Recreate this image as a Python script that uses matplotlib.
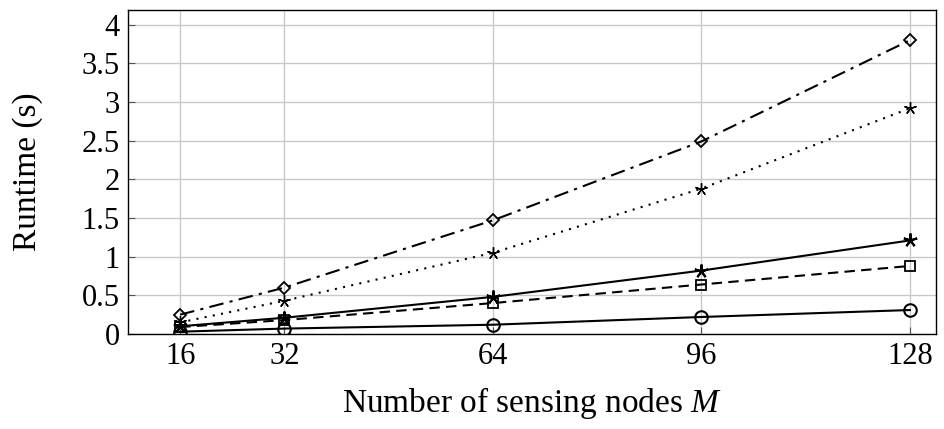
import matplotlib
matplotlib.use("Agg")
import matplotlib.pyplot as plt

nodes = [16, 32, 64, 96, 128]
s_dashdot = [0.25, 0.60, 1.47, 2.49, 3.80]
s_dotted = [0.15, 0.43, 1.05, 1.88, 2.92]
s_solid_star = [0.10, 0.21, 0.48, 0.82, 1.21]
s_dashed = [0.09, 0.18, 0.40, 0.64, 0.88]
s_circle = [0.03, 0.07, 0.12, 0.22, 0.31]
yticks = [0, 0.5, 1, 1.5, 2, 2.5, 3, 3.5, 4]
ytick_labels = ["0", "0.5", "1", "1.5", "2", "2.5", "3", "3.5", "4"]

plt.rcParams['font.family'] = ['Liberation Serif', 'DejaVu Serif']
plt.rcParams['mathtext.fontset'] = 'custom'
plt.rcParams['mathtext.it'] = 'Liberation Serif:italic'
plt.rcParams['mathtext.rm'] = 'Liberation Serif'

fig = plt.figure(figsize=(9.45, 4.29), dpi=100)
ax = fig.add_axes([128/945, 1 - 334/429, (936-128)/945, (334-10)/429])

lw = 1.5
ax.plot(nodes, s_dashdot, color='black', lw=lw, linestyle=(0, (7, 3, 1.5, 3)),
        marker='D', markersize=6, fillstyle='none', mew=1.3)
ax.plot(nodes, s_dotted, color='black', lw=lw, linestyle=(0, (1, 3)),
        marker=(5, 2, 0), markersize=9, mew=1.0)
ax.plot(nodes, s_solid_star, color='black', lw=lw, linestyle='-',
        marker=(5, 2, 0), markersize=10, mew=1.5)
ax.plot(nodes, s_dashed, color='black', lw=lw, linestyle=(0, (5, 3)),
        marker='s', markersize=7, fillstyle='none', mew=1.3)
ax.plot(nodes, s_circle, color='black', lw=lw, linestyle='-',
        marker='o', markersize=9, fillstyle='none', mew=1.5)

ax.set_xlim(8, 132)
ax.set_ylim(0, 4.19)
ax.set_xticks(nodes)
ax.set_xticklabels([str(n) for n in nodes])
ax.set_yticks(yticks)
ax.set_yticklabels(ytick_labels)
ax.grid(True, color='#c8c8c8', lw=1.0)
ax.set_axisbelow(True)
ax.tick_params(direction='in', length=5, width=0.8, labelsize=22, pad=6, color='#555555')
for s in ax.spines.values():
    s.set_linewidth(1.0)

ax.set_xlabel(r"Number of sensing nodes $M$", fontsize=24, labelpad=10)
ax.set_ylabel("Runtime (s)", fontsize=24, labelpad=28)

fig.savefig("out.png", dpi=100)
